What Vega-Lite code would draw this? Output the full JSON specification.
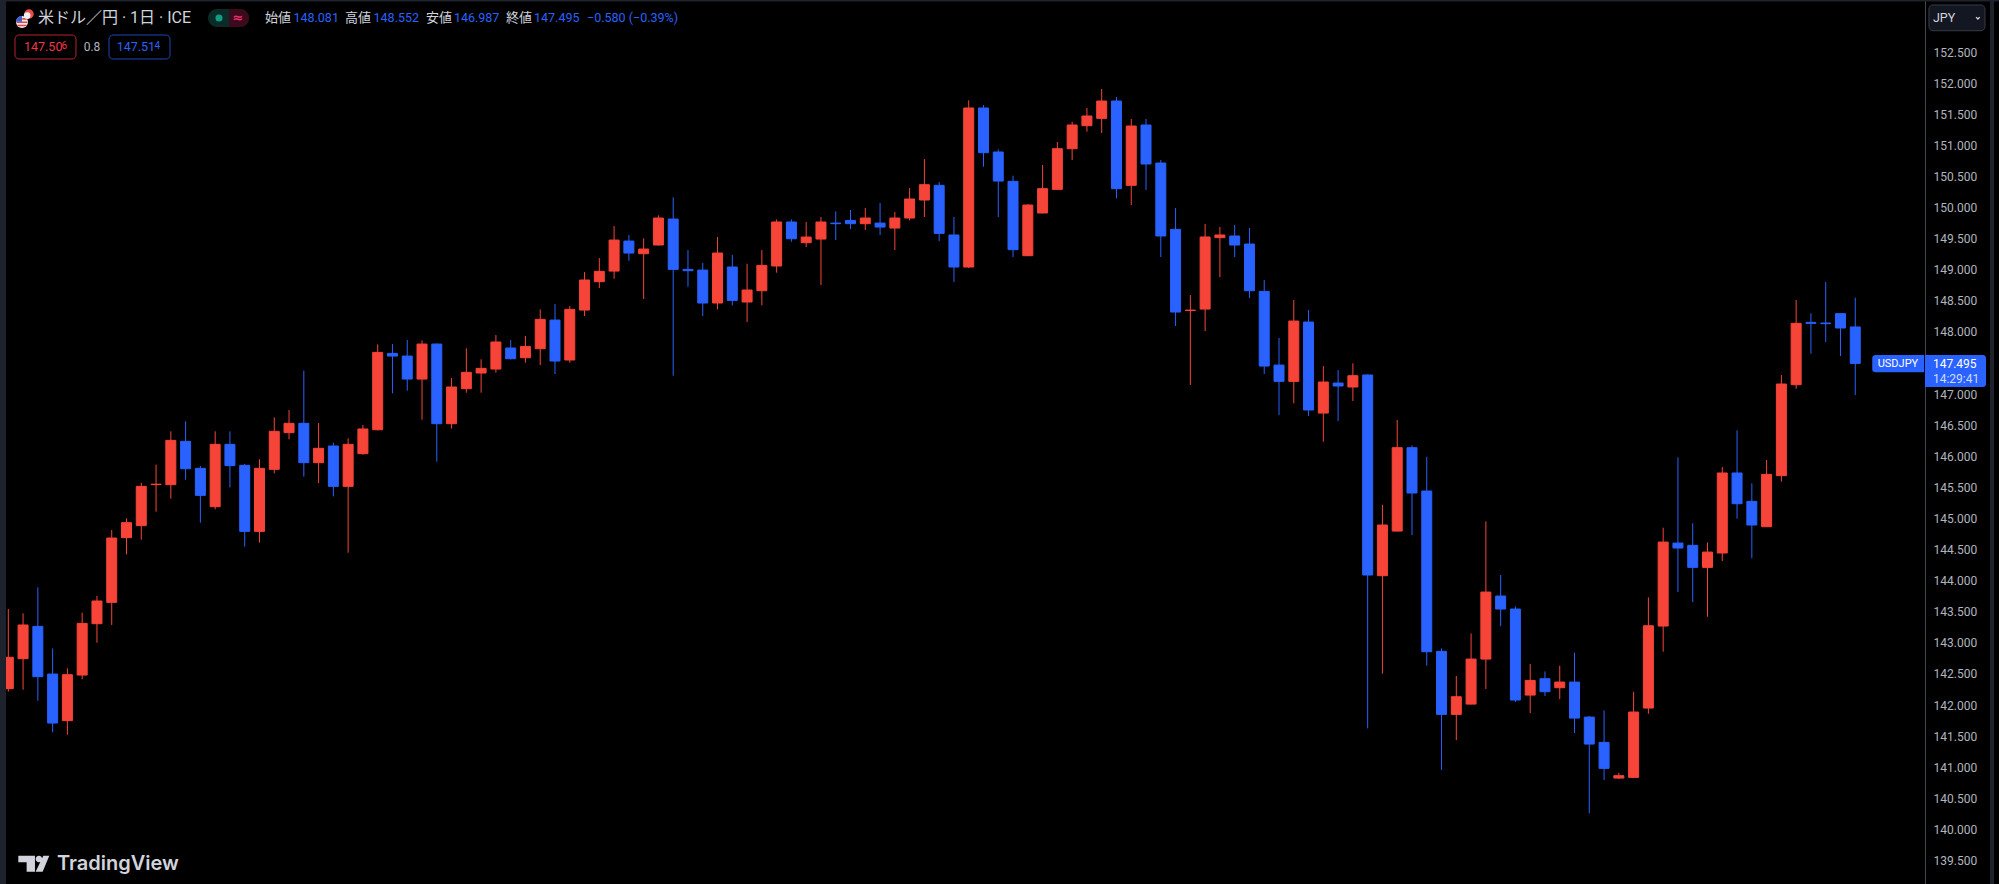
{"$schema":"https://vega.github.io/schema/vega-lite/v6.json","width":1925,"height":884,"padding":{"left":0,"top":0,"right":74,"bottom":0},"autosize":{"type":"none"},"background":"#000000","config":{"view":{"stroke":null},"text":{"baseline":"middle","align":"left","font":"Roboto"}},
"data":{"values":[{"overlay":1}]},
"datasets":{"candles":[
{"bar":0,"open":142.263,"high":143.544,"low":142.214,"close":142.767},
{"bar":1,"open":142.745,"high":143.474,"low":142.246,"close":143.287},
{"bar":2,"open":143.265,"high":143.893,"low":142.069,"close":142.456},
{"bar":3,"open":142.498,"high":142.911,"low":141.56,"close":141.71},
{"bar":4,"open":141.748,"high":142.59,"low":141.523,"close":142.488},
{"bar":5,"open":142.482,"high":143.485,"low":142.413,"close":143.313},
{"bar":6,"open":143.308,"high":143.753,"low":143.002,"close":143.673},
{"bar":7,"open":143.651,"high":144.815,"low":143.287,"close":144.686},
{"bar":8,"open":144.692,"high":145.002,"low":144.423,"close":144.933},
{"bar":9,"open":144.885,"high":145.576,"low":144.659,"close":145.517},
{"bar":10,"open":145.545,"high":145.866,"low":145.11,"close":145.552},
{"bar":11,"open":145.544,"high":146.402,"low":145.319,"close":146.257},
{"bar":12,"open":146.241,"high":146.563,"low":145.624,"close":145.801},
{"bar":13,"open":145.807,"high":145.844,"low":144.933,"close":145.372},
{"bar":14,"open":145.19,"high":146.402,"low":145.147,"close":146.193},
{"bar":15,"open":146.193,"high":146.402,"low":145.501,"close":145.85},
{"bar":16,"open":145.855,"high":145.877,"low":144.547,"close":144.793},
{"bar":17,"open":144.793,"high":145.952,"low":144.611,"close":145.807},
{"bar":18,"open":145.791,"high":146.627,"low":145.726,"close":146.402},
{"bar":19,"open":146.381,"high":146.745,"low":146.273,"close":146.531},
{"bar":20,"open":146.531,"high":147.377,"low":145.673,"close":145.898},
{"bar":21,"open":145.898,"high":146.536,"low":145.571,"close":146.129},
{"bar":22,"open":146.166,"high":146.22,"low":145.356,"close":145.517},
{"bar":23,"open":145.517,"high":146.289,"low":144.45,"close":146.193},
{"bar":24,"open":146.043,"high":146.504,"low":146.027,"close":146.44},
{"bar":25,"open":146.428,"high":147.801,"low":146.418,"close":147.672},
{"bar":26,"open":147.656,"high":147.806,"low":147.013,"close":147.613},
{"bar":27,"open":147.613,"high":147.871,"low":147.056,"close":147.243},
{"bar":28,"open":147.243,"high":147.865,"low":146.589,"close":147.806},
{"bar":29,"open":147.806,"high":147.815,"low":145.914,"close":146.525},
{"bar":30,"open":146.525,"high":147.26,"low":146.445,"close":147.115},
{"bar":31,"open":147.088,"high":147.737,"low":147.024,"close":147.351},
{"bar":32,"open":147.34,"high":147.56,"low":147.024,"close":147.415},
{"bar":33,"open":147.404,"high":147.951,"low":147.345,"close":147.839},
{"bar":34,"open":147.742,"high":147.87,"low":147.559,"close":147.57},
{"bar":35,"open":147.586,"high":147.935,"low":147.506,"close":147.768},
{"bar":36,"open":147.731,"high":148.364,"low":147.468,"close":148.203},
{"bar":37,"open":148.192,"high":148.449,"low":147.323,"close":147.533},
{"bar":38,"open":147.549,"high":148.417,"low":147.506,"close":148.364},
{"bar":39,"open":148.353,"high":148.964,"low":148.256,"close":148.836},
{"bar":40,"open":148.809,"high":149.189,"low":148.707,"close":148.975},
{"bar":41,"open":148.98,"high":149.704,"low":148.857,"close":149.479},
{"bar":42,"open":149.463,"high":149.559,"low":149.147,"close":149.27},
{"bar":43,"open":149.259,"high":149.506,"low":148.53,"close":149.334},
{"bar":44,"open":149.399,"high":149.876,"low":149.393,"close":149.833},
{"bar":45,"open":149.817,"high":150.165,"low":147.297,"close":149.007},
{"bar":46,"open":149.007,"high":149.318,"low":148.728,"close":148.986},
{"bar":47,"open":148.996,"high":149.109,"low":148.256,"close":148.466},
{"bar":48,"open":148.466,"high":149.527,"low":148.364,"close":149.27},
{"bar":49,"open":149.045,"high":149.238,"low":148.428,"close":148.508},
{"bar":50,"open":148.482,"high":149.098,"low":148.16,"close":148.675},
{"bar":51,"open":148.664,"high":149.318,"low":148.428,"close":149.071},
{"bar":52,"open":149.061,"high":149.811,"low":148.954,"close":149.769},
{"bar":53,"open":149.769,"high":149.811,"low":149.452,"close":149.5},
{"bar":54,"open":149.436,"high":149.769,"low":149.366,"close":149.527},
{"bar":55,"open":149.495,"high":149.849,"low":148.755,"close":149.769},
{"bar":56,"open":149.752,"high":149.94,"low":149.479,"close":149.742},
{"bar":57,"open":149.795,"high":149.962,"low":149.656,"close":149.742},
{"bar":58,"open":149.742,"high":149.994,"low":149.64,"close":149.833},
{"bar":59,"open":149.752,"high":150.074,"low":149.559,"close":149.688},
{"bar":60,"open":149.672,"high":149.929,"low":149.318,"close":149.833},
{"bar":61,"open":149.833,"high":150.315,"low":149.795,"close":150.139},
{"bar":62,"open":150.123,"high":150.782,"low":149.849,"close":150.369},
{"bar":63,"open":150.359,"high":150.412,"low":149.463,"close":149.586},
{"bar":64,"open":149.56,"high":149.849,"low":148.804,"close":149.045},
{"bar":65,"open":149.045,"high":151.726,"low":149.029,"close":151.603},
{"bar":66,"open":151.603,"high":151.651,"low":150.659,"close":150.884},
{"bar":67,"open":150.895,"high":150.938,"low":149.849,"close":150.428},
{"bar":68,"open":150.423,"high":150.514,"low":149.206,"close":149.324},
{"bar":69,"open":149.227,"high":150.058,"low":149.222,"close":150.042},
{"bar":70,"open":149.914,"high":150.686,"low":149.908,"close":150.305},
{"bar":71,"open":150.294,"high":151.056,"low":150.289,"close":150.948},
{"bar":72,"open":150.948,"high":151.383,"low":150.766,"close":151.329},
{"bar":73,"open":151.318,"high":151.603,"low":151.222,"close":151.474},
{"bar":74,"open":151.436,"high":151.908,"low":151.2,"close":151.715},
{"bar":75,"open":151.715,"high":151.78,"low":150.149,"close":150.305},
{"bar":76,"open":150.359,"high":151.426,"low":150.042,"close":151.313},
{"bar":77,"open":151.329,"high":151.426,"low":150.284,"close":150.702},
{"bar":78,"open":150.718,"high":150.766,"low":149.206,"close":149.544},
{"bar":79,"open":149.651,"high":149.994,"low":148.096,"close":148.321},
{"bar":80,"open":148.345,"high":148.595,"low":147.147,"close":148.352},
{"bar":81,"open":148.369,"high":149.737,"low":148.015,"close":149.528},
{"bar":82,"open":149.517,"high":149.688,"low":148.884,"close":149.56},
{"bar":83,"open":149.544,"high":149.721,"low":149.206,"close":149.399},
{"bar":84,"open":149.415,"high":149.672,"low":148.546,"close":148.664},
{"bar":85,"open":148.653,"high":148.836,"low":147.324,"close":147.452},
{"bar":86,"open":147.468,"high":147.903,"low":146.664,"close":147.206},
{"bar":87,"open":147.206,"high":148.514,"low":146.852,"close":148.176},
{"bar":88,"open":148.16,"high":148.353,"low":146.648,"close":146.745},
{"bar":89,"open":146.696,"high":147.452,"low":146.235,"close":147.195},
{"bar":90,"open":147.179,"high":147.388,"low":146.568,"close":147.131},
{"bar":91,"open":147.115,"high":147.495,"low":146.889,"close":147.297},
{"bar":92,"open":147.308,"high":147.318,"low":141.624,"close":144.091},
{"bar":93,"open":144.08,"high":145.222,"low":142.503,"close":144.895},
{"bar":94,"open":144.798,"high":146.584,"low":144.793,"close":146.139},
{"bar":95,"open":146.139,"high":146.176,"low":144.734,"close":145.41},
{"bar":96,"open":145.442,"high":145.994,"low":142.632,"close":142.857},
{"bar":97,"open":142.863,"high":142.911,"low":140.954,"close":141.849},
{"bar":98,"open":141.849,"high":142.466,"low":141.436,"close":142.133},
{"bar":99,"open":142.015,"high":143.152,"low":142.01,"close":142.739},
{"bar":100,"open":142.739,"high":144.954,"low":142.257,"close":143.817},
{"bar":101,"open":143.753,"high":144.091,"low":143.27,"close":143.544},
{"bar":102,"open":143.544,"high":143.586,"low":142.048,"close":142.08},
{"bar":103,"open":142.16,"high":142.659,"low":141.871,"close":142.396},
{"bar":104,"open":142.423,"high":142.541,"low":142.144,"close":142.214},
{"bar":105,"open":142.278,"high":142.632,"low":142.096,"close":142.369},
{"bar":106,"open":142.369,"high":142.841,"low":141.549,"close":141.79},
{"bar":107,"open":141.806,"high":141.822,"low":140.257,"close":141.372},
{"bar":108,"open":141.399,"high":141.914,"low":140.793,"close":140.981},
{"bar":109,"open":140.825,"high":140.911,"low":140.809,"close":140.863},
{"bar":110,"open":140.836,"high":142.214,"low":140.825,"close":141.887},
{"bar":111,"open":141.951,"high":143.731,"low":141.86,"close":143.275},
{"bar":112,"open":143.27,"high":144.852,"low":142.857,"close":144.621},
{"bar":113,"open":144.605,"high":145.983,"low":143.817,"close":144.525},
{"bar":114,"open":144.568,"high":144.922,"low":143.656,"close":144.214},
{"bar":115,"open":144.214,"high":144.616,"low":143.42,"close":144.46},
{"bar":116,"open":144.445,"high":145.828,"low":144.316,"close":145.732},
{"bar":117,"open":145.732,"high":146.418,"low":144.997,"close":145.238},
{"bar":118,"open":145.276,"high":145.565,"low":144.359,"close":144.895},
{"bar":119,"open":144.868,"high":145.941,"low":144.863,"close":145.71},
{"bar":120,"open":145.689,"high":147.308,"low":145.592,"close":147.163},
{"bar":121,"open":147.152,"high":148.514,"low":147.088,"close":148.139},
{"bar":122,"open":148.155,"high":148.3,"low":147.651,"close":148.139},
{"bar":123,"open":148.144,"high":148.804,"low":147.839,"close":148.134},
{"bar":124,"open":148.295,"high":148.3,"low":147.614,"close":148.064},
{"bar":125,"open":148.081,"high":148.552,"low":146.987,"close":147.495}
]},
"layer":[
{"data":{"name":"candles"},"mark":{"type":"rule","strokeWidth":1},"encoding":{
"x":{"field":"bar","type":"quantitative","scale":{"domain":[-0.5617,129.72],"range":[0,1925],"nice":false,"zero":false,"padding":0},"axis":null},
"y":{"field":"low","type":"quantitative","title":null,"scale":{"domain":[139.121,153.34],"range":[884,0],"nice":false,"zero":false},"axis":{"orient":"right","title":null,"tickCount":40,"values":[139.5,140,140.5,141,141.5,142,142.5,143,143.5,144,144.5,145,145.5,146,146.5,147,148,148.5,149,149.5,150,150.5,151,151.5,152,152.5],"format":".3f","grid":false,"ticks":false,"domain":true,"domainColor":"#434651","domainWidth":1,"labelColor":"#b2b5be","labelFont":"Roboto","labelFontSize":12,"labelPadding":8,"labelOverlap":false,"labelAlign":"left","labelBaseline":"middle"}},
"y2":{"field":"high"},
"color":{"condition":{"test":"datum.close>=datum.open","value":"#f74438"},"value":"#2962ff"}}},
{"data":{"name":"candles"},"mark":{"type":"bar","size":10,"orient":"vertical","strokeWidth":1},"encoding":{
"x":{"field":"bar","type":"quantitative","axis":null},
"y":{"field":"open","type":"quantitative"},
"y2":{"field":"close"},
"fill":{"condition":{"test":"datum.close>=datum.open","value":"#f74438"},"value":"#2962ff"},
"stroke":{"condition":{"test":"datum.close>=datum.open","value":"#f74438"},"value":"#2962ff"}}},
{"mark":{"type":"rect","fill":"#1e222d"},"encoding":{"x":{"datum":-0.5617,"axis":null},"x2":{"datum":-0.156},"y":{"datum":139.121},"y2":{"datum":153.34}}},
{"mark":{"type":"rect","fill":"#1e222d"},"encoding":{"x":{"datum":134.12,"axis":null},"x2":{"datum":134.39},"y":{"datum":139.121},"y2":{"datum":153.34}}},
{"mark":{"type":"rect","fill":"#1e222d"},"encoding":{"x":{"datum":-0.5617,"axis":null},"x2":{"datum":134.72},"y":{"datum":153.316},"y2":{"datum":153.34}}},
{"mark":{"type":"point","filled":true,"fill":"#eceef2","stroke":null,"shape":"circle","size":144,"opacity":1},"encoding":{"x":{"datum":0.927,"axis":null},"y":{"datum":152.986}}},
{"mark":{"type":"point","filled":true,"fill":"#e8413f","stroke":null,"size":144,"opacity":1,"shape":"M-0.9,-0.1H0.9V0.15H-0.9Z M-0.8,0.45H0.8V0.7H-0.8Z M0.05,-0.65H0.8V-0.38H0.05Z"},"encoding":{"x":{"datum":0.927,"axis":null},"y":{"datum":152.986}}},
{"mark":{"type":"point","filled":true,"fill":"#3b5fd0","stroke":null,"size":144,"opacity":1,"shape":"M-1,-0.05A1,1 0 0 1 0,-1V-0.05Z"},"encoding":{"x":{"datum":0.927,"axis":null},"y":{"datum":152.986}}},
{"mark":{"type":"point","filled":true,"fill":"#ee4a4a","stroke":null,"shape":"circle","size":90,"opacity":1},"encoding":{"x":{"datum":1.401,"axis":null},"y":{"datum":153.115}}},
{"mark":{"type":"point","filled":true,"fill":"#eceef2","stroke":null,"shape":"circle","size":45,"opacity":1},"encoding":{"x":{"datum":1.28,"axis":null},"y":{"datum":153.09}}},
{"mark":{"type":"text","font":"Roboto, Noto Sans CJK JP","fontSize":16,"fill":"#d1d4dc"},"encoding":{"x":{"datum":2.01,"axis":null},"y":{"datum":153.05},"text":{"value":"米ドル／円 · 1日 · ICE"}}},
{"mark":{"type":"rect","fill":"#0b2b28","cornerRadius":9},"encoding":{"x":{"datum":13.515,"axis":null},"x2":{"datum":16.29},"y":{"datum":153.195},"y2":{"datum":152.906}}},
{"mark":{"type":"rect","fill":"#3c0a1c","cornerRadiusTopRight":9,"cornerRadiusBottomRight":9},"encoding":{"x":{"datum":14.937,"axis":null},"x2":{"datum":16.29},"y":{"datum":153.195},"y2":{"datum":152.906}}},
{"mark":{"type":"point","filled":true,"fill":"#0f9d84","stroke":null,"shape":"circle","size":50,"opacity":1},"encoding":{"x":{"datum":14.26,"axis":null},"y":{"datum":153.05}}},
{"mark":{"type":"text","font":"DejaVu Sans","fontSize":13,"fontWeight":"bold","align":"center","fill":"#e8316a"},"encoding":{"x":{"datum":15.545,"axis":null},"y":{"datum":153.05},"text":{"value":"≈"}}},
{"mark":{"type":"text","font":"Noto Sans CJK JP","fontSize":13,"fill":"#d1d4dc"},"encoding":{"x":{"datum":17.37,"axis":null},"y":{"datum":153.05},"text":{"value":"始値"}}},
{"mark":{"type":"text","fontSize":12.5,"fill":"#2962ff"},"encoding":{"x":{"datum":19.3,"axis":null},"y":{"datum":153.05},"text":{"value":"148.081"}}},
{"mark":{"type":"text","font":"Noto Sans CJK JP","fontSize":13,"fill":"#d1d4dc"},"encoding":{"x":{"datum":22.79,"axis":null},"y":{"datum":153.05},"text":{"value":"高値"}}},
{"mark":{"type":"text","fontSize":12.5,"fill":"#2962ff"},"encoding":{"x":{"datum":24.72,"axis":null},"y":{"datum":153.05},"text":{"value":"148.552"}}},
{"mark":{"type":"text","font":"Noto Sans CJK JP","fontSize":13,"fill":"#d1d4dc"},"encoding":{"x":{"datum":28.27,"axis":null},"y":{"datum":153.05},"text":{"value":"安値"}}},
{"mark":{"type":"text","fontSize":12.5,"fill":"#2962ff"},"encoding":{"x":{"datum":30.16,"axis":null},"y":{"datum":153.05},"text":{"value":"146.987"}}},
{"mark":{"type":"text","font":"Noto Sans CJK JP","fontSize":13,"fill":"#d1d4dc"},"encoding":{"x":{"datum":33.68,"axis":null},"y":{"datum":153.05},"text":{"value":"終値"}}},
{"mark":{"type":"text","fontSize":12.5,"fill":"#2962ff"},"encoding":{"x":{"datum":35.58,"axis":null},"y":{"datum":153.05},"text":{"value":"147.495"}}},
{"mark":{"type":"text","fontSize":12.5,"fill":"#2962ff"},"encoding":{"x":{"datum":39.17,"axis":null},"y":{"datum":153.05},"text":{"value":"−0.580 (−0.39%)"}}},
{"mark":{"type":"rect","fill":"#000000","stroke":"#b3242f","strokeWidth":1,"cornerRadius":4},"encoding":{"x":{"datum":0.453,"axis":null},"x2":{"datum":4.581},"y":{"datum":152.777},"y2":{"datum":152.391}}},
{"mark":{"type":"text","fontSize":12.5,"fill":"#f23645"},"encoding":{"x":{"datum":1.0625,"axis":null},"y":{"datum":152.576},"text":{"value":"147.50"}}},
{"mark":{"type":"text","fontSize":10,"fill":"#f23645"},"encoding":{"x":{"datum":3.6,"axis":null},"y":{"datum":152.6},"text":{"value":"6"}}},
{"mark":{"type":"text","fontSize":12,"align":"center","fill":"#b2b5be"},"encoding":{"x":{"datum":5.665,"axis":null},"y":{"datum":152.576},"text":{"value":"0.8"}}},
{"mark":{"type":"rect","fill":"#000000","stroke":"#1e46b4","strokeWidth":1,"cornerRadius":4},"encoding":{"x":{"datum":6.815,"axis":null},"x2":{"datum":10.944},"y":{"datum":152.777},"y2":{"datum":152.391}}},
{"mark":{"type":"text","fontSize":12.5,"fill":"#2962ff"},"encoding":{"x":{"datum":7.336,"axis":null},"y":{"datum":152.576},"text":{"value":"147.51"}}},
{"mark":{"type":"text","fontSize":10,"fill":"#2962ff"},"encoding":{"x":{"datum":9.9,"axis":null},"y":{"datum":152.6},"text":{"value":"4"}}},
{"mark":{"type":"rect","fill":"#131722","stroke":"#363a45","strokeWidth":1,"cornerRadius":4},"encoding":{"x":{"datum":129.986,"axis":null},"x2":{"datum":133.778},"y":{"datum":153.26},"y2":{"datum":152.846}}},
{"mark":{"type":"text","fontSize":12.5,"fill":"#d1d4dc"},"encoding":{"x":{"datum":130.257,"axis":null},"y":{"datum":153.05},"text":{"value":"JPY"}}},
{"mark":{"type":"point","filled":false,"fill":null,"stroke":"#d1d4dc","strokeWidth":1.4,"size":36,"opacity":1,"shape":"M-0.6,-0.3L0,0.3L0.6,-0.3"},"encoding":{"x":{"datum":133.3,"axis":null},"y":{"datum":153.05}}},
{"mark":{"type":"rect","fill":"#2962ff","cornerRadiusTopLeft":3,"cornerRadiusBottomLeft":3},"encoding":{"x":{"datum":126.15,"axis":null},"x2":{"datum":129.66},"y":{"datum":147.63},"y2":{"datum":147.352}}},
{"mark":{"type":"text","fontSize":11,"align":"center","fill":"#ffffff"},"encoding":{"x":{"datum":127.89,"axis":null},"y":{"datum":147.485},"text":{"value":"USDJPY"}}},
{"mark":{"type":"rect","fill":"#2962ff","cornerRadiusTopRight":3,"cornerRadiusBottomRight":3},"encoding":{"x":{"datum":129.72,"axis":null},"x2":{"datum":133.85},"y":{"datum":147.63},"y2":{"datum":147.115}}},
{"mark":{"type":"text","fontSize":12,"fill":"#ffffff"},"encoding":{"x":{"datum":130.257,"axis":null},"y":{"datum":147.485},"text":{"value":"147.495"}}},
{"mark":{"type":"text","fontSize":12,"fill":"#cfdcff"},"encoding":{"x":{"datum":130.257,"axis":null},"y":{"datum":147.249},"text":{"value":"14:29:41"}}},
{"mark":{"type":"point","filled":true,"fill":"#d1d4dc","stroke":null,"size":961,"opacity":1,"shape":"M-1,-0.516H0.075V0.516H-0.462V-0.086H-1Z M0.118,-0.3A0.215,0.215 0 1,1 0.548,-0.3A0.215,0.215 0 1,1 0.118,-0.3Z M0.613,-0.516H1L0.57,0.516H0.118Z"},"encoding":{"x":{"datum":1.726,"axis":null},"y":{"datum":139.448}}},
{"mark":{"type":"text","font":"Inter","fontSize":20,"fontWeight":600,"fill":"#d1d4dc"},"encoding":{"x":{"datum":3.296,"axis":null},"y":{"datum":139.44},"text":{"value":"TradingView"}}}
]}
